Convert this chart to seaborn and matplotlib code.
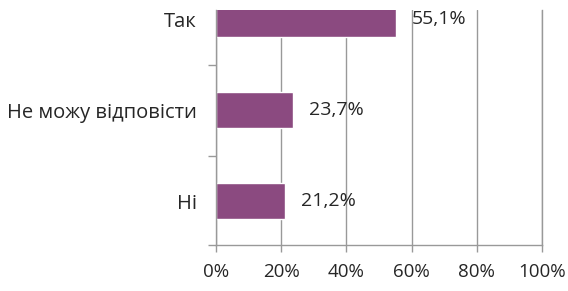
import pandas as pd
import numpy as np
import seaborn as sns
import matplotlib.pyplot as plt
from matplotlib.ticker import FixedLocator

# survey answers and their shares (%)
answers = ['Так', 'Не можу відповісти', 'Ні']
shares = [55.1, 23.7, 21.2]
value_labels = ['55,1%', '23,7%', '21,2%']
x_ticks = [0, 20, 40, 60, 80, 100]

df = pd.DataFrame({'answer': answers, 'share': shares})

sns.set_style('white')
plt.rcParams['font.family'] = ['Open Sans', 'DejaVu Sans']

fig = plt.figure(figsize=(5.68, 2.91), dpi=100)
ax = fig.add_axes([216 / 568, 46 / 291, 326 / 568, 235 / 291])

sns.barplot(data=df, x='share', y='answer', order=answers, orient='h',
            color='#8b4a80', saturation=1, width=0.4, ax=ax)

ax.set_xlim(0, 100)
ax.set_ylim(2.48, -0.1)
ax.set_xlabel('')
ax.set_ylabel('')

# vertical gridlines
ax.set_xticks(x_ticks)
ax.set_xticklabels([f'{t}%' for t in x_ticks], fontsize=13.5)
ax.xaxis.grid(True, color='#999999', linewidth=1)
ax.set_axisbelow(True)
ax.tick_params(axis='x', which='major', length=5, color='#999999', width=1,
               pad=8, labelcolor='#262626', bottom=True)

# category labels at centres, tick marks at band borders
ax.tick_params(axis='y', which='major', length=0, pad=14,
               labelsize=14.5, labelcolor='#262626')
ax.yaxis.set_minor_locator(FixedLocator([0.5, 1.5, 2.48]))
ax.tick_params(axis='y', which='minor', length=6, color='#999999', width=1, left=True)

ax.spines['top'].set_visible(False)
ax.spines['right'].set_visible(True)
for side in ['left', 'bottom', 'right']:
    ax.spines[side].set_color('#999999')
    ax.spines[side].set_linewidth(1)

for i, (v, lab) in enumerate(zip(shares, value_labels)):
    ax.text(v + 4.8, i, lab, va='center', ha='left', fontsize=14, color='#262626',
            clip_on=False)

fig.savefig('out.png', dpi=100)
